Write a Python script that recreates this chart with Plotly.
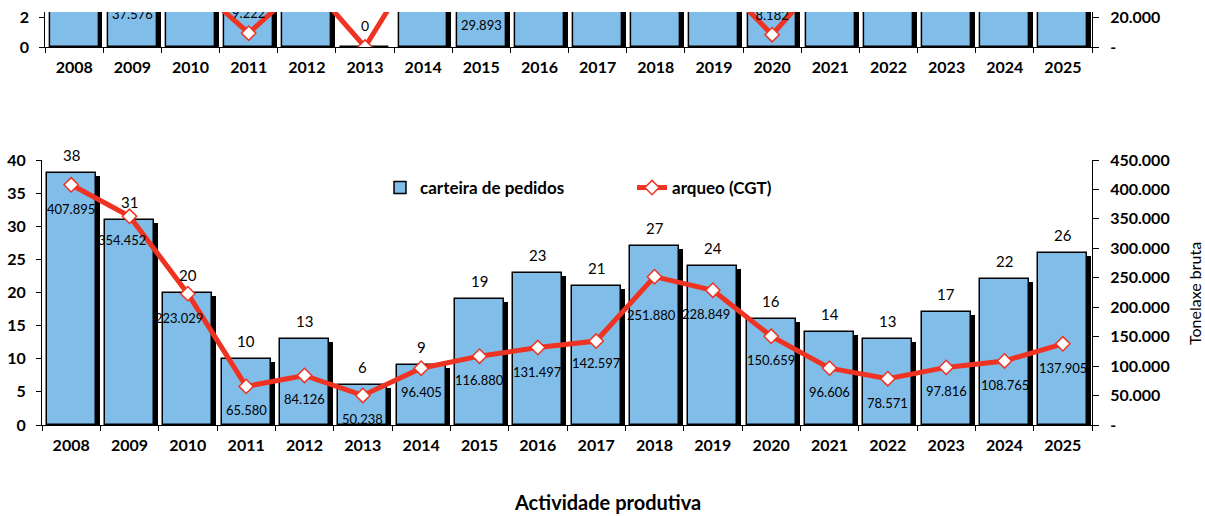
import plotly.graph_objects as go

# ---------------- data ----------------
years = [str(y) for y in range(2008, 2026)]

# lower (main) chart
orders = [38, 31, 20, 10, 13, 6, 9, 19, 23, 21, 27, 24, 16, 14, 13, 17, 22, 26]
tonnage = [407895, 354452, 223029, 65580, 84126, 50238, 96405, 116880, 131497,
           142597, 251880, 228849, 150659, 96606, 78571, 97816, 108765, 137905]

# upper chart (cropped at the top of the picture; values above the visible
# strip cannot be read and are rough estimates)
top_orders = [30, 25, 22, 12, 15, 0, 18, 14, 20, 19, 24, 21, 9, 16, 17, 15, 20, 24]
top_tonnage = [60000, 37576, 43800, 9222, 44384, 0, 62700, 29893, 55000, 60000,
               70000, 48000, 8182, 52000, 60000, 55000, 65000, 70000]

left_ticks = [0, 5, 10, 15, 20, 25, 30, 35, 40]
right_ticks = [0, 50000, 100000, 150000, 200000, 250000, 300000, 350000, 400000, 450000]
top_left_ticks = [0, 2]
top_right_ticks = [0, 20000]

series_names = ["carteira de pedidos", "arqueo (CGT)"]
x_title = "Actividade produtiva"
y2_title = "Tonelaxe bruta"

# ---------------- style ----------------
BLUE = "#80BDE8"
RED = "#EF3323"
FONT = "Lato"
W, H = 1205, 516
ML, MR, MT, MB = 42, 113, 12, 91
PW, PH = W - ML - MR, H - MT - MB
bottom_top_px = 160   # pixel row of the 40 tick
top_zero_px = 47      # pixel row of the upper chart's 0

bar_w = 0.84
cat_px = PW / len(years)
shadow_dx = 4 / cat_px
bot_px = (H - MB) - bottom_top_px
top_px = top_zero_px - MT
top_left_max = 2 * top_px / 30.0
top_right_max = 20000 * top_px / 30.0

# label offsets for the lower line labels (pixels)
line_lbl_dx = [0, -8, -9, 0, 0, 0, 0, 0, 0, 0, -3, -7, 0, 0, 0, 0, 0, 0]
line_lbl_dy = [-24, -24, -24, -24, -24, -24, -24, -24, -24, -22, -38, -24, -24, -24, -24, -24, -24, -24]


def fmt(v):
    return "-" if v == 0 else f"{v:,}".replace(",", ".")


fig = go.Figure()

# ---- lower chart ----
dy_left = 3 * 40 / bot_px
fig.add_trace(go.Bar(x=years, y=[max(v - dy_left, 0) for v in orders], width=bar_w,
                     offset=-bar_w / 2 + shadow_dx, marker=dict(color="black", line=dict(width=0)),
                     xaxis="x", yaxis="y", showlegend=False, hoverinfo="skip"))
fig.add_trace(go.Bar(x=years, y=orders, width=bar_w, offset=-bar_w / 2,
                     marker=dict(color=BLUE, line=dict(color="black", width=1.5)),
                     name=series_names[0], xaxis="x", yaxis="y"))
fig.add_trace(go.Scatter(x=years, y=tonnage, mode="lines+markers", name=series_names[1],
                         line=dict(color=RED, width=5),
                         marker=dict(symbol="diamond", size=11, color="white",
                                     line=dict(color=RED, width=1.5)),
                         xaxis="x", yaxis="y2"))

# ---- upper chart ----
dy_top = 3 * top_left_max / top_px
fig.add_trace(go.Bar(x=years, y=[max(v - dy_top, 0) for v in top_orders], width=bar_w,
                     offset=-bar_w / 2 + shadow_dx, marker=dict(color="black", line=dict(width=0)),
                     xaxis="x2", yaxis="y3", showlegend=False, hoverinfo="skip"))
fig.add_trace(go.Bar(x=years, y=top_orders, width=bar_w, offset=-bar_w / 2,
                     marker=dict(color=BLUE, line=dict(color="black", width=1.5)),
                     xaxis="x2", yaxis="y3", showlegend=False, hoverinfo="skip"))
fig.add_trace(go.Scatter(x=years, y=top_tonnage, mode="lines+markers",
                         line=dict(color=RED, width=5),
                         marker=dict(symbol="diamond", size=11, color="white",
                                     line=dict(color=RED, width=1.5)),
                         xaxis="x2", yaxis="y4", showlegend=False, hoverinfo="skip"))

# upper labels: only those that fall inside (or just at the edge of) the strip
u_right = top_right_max / top_px
u_left = top_left_max / top_px
tl_x, tl_y, tl_t = [], [], []
for yr, v in zip(years, top_tonnage):
    if v == 0:
        continue
    y = v + 18 * u_right if v < 15000 else v - 25 * u_right
    if y / u_right < top_px + 7:
        tl_x.append(yr)
        tl_y.append(y)
        tl_t.append(fmt(v))
fig.add_trace(go.Scatter(x=tl_x, y=tl_y, mode="text", text=tl_t,
                         textposition="middle center", cliponaxis=True,
                         textfont=dict(family=FONT, size=13, color="black"),
                         xaxis="x2", yaxis="y4", showlegend=False, hoverinfo="skip"))
tb_x, tb_y, tb_t = [], [], []
for yr, v in zip(years, top_orders):
    y = v + 20 * u_left
    if y / u_left < top_px + 7:
        tb_x.append(yr)
        tb_y.append(y)
        tb_t.append(str(v))
fig.add_trace(go.Scatter(x=tb_x, y=tb_y, mode="text", text=tb_t,
                         textposition="middle center", cliponaxis=True,
                         textfont=dict(family=FONT, size=14, color="black"),
                         xaxis="x2", yaxis="y3", showlegend=False, hoverinfo="skip"))

annotations = []
for i, v in enumerate(orders):
    annotations.append(dict(x=i, y=v, xref="x", yref="y", text=str(v), showarrow=False,
                            yanchor="middle", yshift=18,
                            font=dict(family=FONT, size=15, color="black")))
for i, v in enumerate(tonnage):
    annotations.append(dict(x=i, y=v, xref="x", yref="y2", text=fmt(v), showarrow=False,
                            yanchor="middle", yshift=line_lbl_dy[i], xshift=line_lbl_dx[i],
                            font=dict(family=FONT, size=13, color="black")))
annotations.append(dict(x=(W / 2 - ML + 5) / PW, y=(H - MB - 502) / PH, xref="paper", yref="paper",
                        text=x_title, showarrow=False, yanchor="middle", xanchor="center",
                        font=dict(family=FONT, size=20, color="black", weight="bold")))
annotations.append(dict(x=(1194 - ML) / PW, y=(H - MB - 294) / PH, xref="paper", yref="paper",
                        text=y2_title, showarrow=False, textangle=-90, xanchor="center",
                        yanchor="middle", font=dict(family=FONT, size=16, color="black")))

tickfont = dict(family=FONT, size=16, color="black", weight="bold")
axis_common = dict(showgrid=False, zeroline=False, showline=True, linecolor="black",
                   linewidth=1, tickcolor="black", tickfont=tickfont)

bottom_dom = [0, bot_px / PH]
top_dom = [(H - MB - top_zero_px) / PH, 1]

fig.update_layout(
    width=W, height=H,
    margin=dict(l=ML, r=MR, t=MT, b=MB, autoexpand=False),
    paper_bgcolor="white", plot_bgcolor="rgba(0,0,0,0)",
    barmode="overlay", bargap=0,
    showlegend=True,
    legend=dict(orientation="h", x=(380 - ML) / PW, y=(H - MB - 188) / PH,
                xanchor="left", yanchor="middle", bgcolor="rgba(0,0,0,0)",
                font=dict(family=FONT, size=17, color="black", weight="bold"),
                entrywidth=207, entrywidthmode="pixels"),
    annotations=annotations,
    xaxis=dict(domain=[0, 1], anchor="y", type="category", tickson="boundaries",
               ticks="outside", ticklen=5, ticklabelstandoff=6, range=[-0.5, 17.5],
               **axis_common),
    yaxis=dict(domain=bottom_dom, anchor="x", range=[0, 40], tickvals=left_ticks,
               ticks="outside", ticklen=5, ticklabelstandoff=7, **axis_common),
    yaxis2=dict(overlaying="y", side="right", anchor="x", range=[0, 450000],
                tickvals=right_ticks, ticktext=[fmt(v) for v in right_ticks],
                ticks="outside", ticklen=6, ticklabelstandoff=8, **axis_common),
    yaxis5=dict(overlaying="y", side="right", anchor="x", range=[0, 450000],
                tickvals=right_ticks, ticks="inside", ticklen=6, showticklabels=False,
                showgrid=False, zeroline=False, showline=False, tickcolor="black"),
    xaxis2=dict(domain=[0.003, 1], anchor="y3", type="category", tickson="boundaries",
                ticks="outside", ticklen=5, ticklabelstandoff=6, range=[-0.5, 17.5],
                **axis_common),
    yaxis3=dict(domain=top_dom, anchor="x2", range=[0, top_left_max], tickvals=top_left_ticks,
                ticks="outside", ticklen=5, ticklabelstandoff=7, **axis_common),
    yaxis4=dict(overlaying="y3", side="right", anchor="x2", range=[0, top_right_max],
                tickvals=top_right_ticks, ticktext=[fmt(v) for v in top_right_ticks],
                ticks="outside", ticklen=6, ticklabelstandoff=8, **axis_common),
)

fig.write_html("out.html", config={"displayModeBar": False},
               post_script="document.body.style.margin='0';document.body.style.overflow='hidden';")
